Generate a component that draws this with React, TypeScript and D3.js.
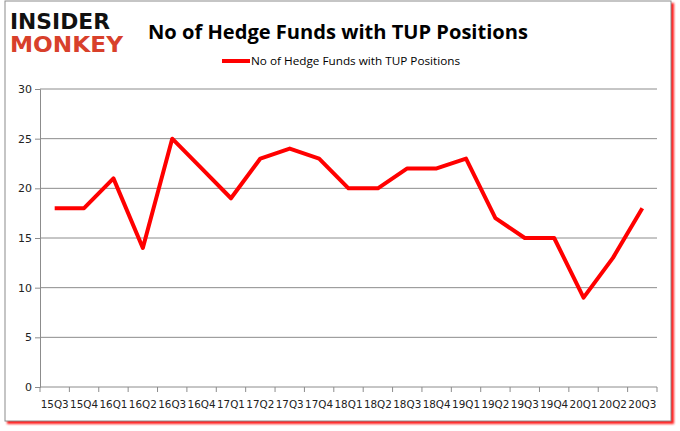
// @ts-nocheck
import React, { useEffect, useRef } from 'react'
import * as d3 from 'd3'

const quarters = ['15Q3', '15Q4', '16Q1', '16Q2', '16Q3', '16Q4', '17Q1', '17Q2', '17Q3', '17Q4',
    '18Q1', '18Q2', '18Q3', '18Q4', '19Q1', '19Q2', '19Q3', '19Q4', '20Q1', '20Q2', '20Q3']
const funds = [18, 18, 21, 14, 25, 22, 19, 23, 24, 23, 20, 20, 22, 22, 23, 17, 15, 15, 9, 13, 18]
const yTicks = [0, 5, 10, 15, 20, 25, 30]
const seriesName = 'No of Hedge Funds with TUP Positions'

const App = () => {
    const ref = useRef(null)

    useEffect(() => {
        const left = 40, right = 657, top = 89, bottom = 387

        const svg = d3.select(ref.current)
        svg.selectAll('*').remove()

        // soft red shadow behind the frame
        const defs = svg.append('defs')
        defs.append('filter').attr('id', 'blur').attr('x', '-5%').attr('y', '-5%')
            .attr('width', '110%').attr('height', '110%')
            .append('feGaussianBlur').attr('stdDeviation', 1.3)
        svg.append('rect').attr('x', 7).attr('y', 3).attr('width', 667).attr('height', 421)
            .attr('fill', '#ff1a1a').attr('filter', 'url(#blur)')
        svg.append('rect').attr('x', 5).attr('y', 1).attr('width', 666).attr('height', 420)
            .attr('fill', '#fff').attr('stroke', '#8c8c8c').attr('stroke-width', 1)

        // logo
        svg.append('text').attr('x', 10).attr('y', 29).text('INSIDER')
            .attr('font-family', 'DejaVu Sans').attr('font-weight', 900).attr('font-size', 22)
            .attr('textLength', 100).attr('lengthAdjust', 'spacingAndGlyphs').attr('fill', '#111')
        svg.append('text').attr('x', 10).attr('y', 52).text('MONKEY')
            .attr('font-family', 'DejaVu Sans').attr('font-weight', 900).attr('font-size', 22)
            .attr('textLength', 113).attr('lengthAdjust', 'spacingAndGlyphs').attr('fill', '#d8402b')

        // title
        svg.append('text').attr('x', 338).attr('y', 39).attr('text-anchor', 'middle')
            .text(seriesName).attr('font-family', 'Open Sans').attr('font-weight', 700)
            .attr('font-size', 19).attr('textLength', 380).attr('lengthAdjust', 'spacingAndGlyphs')

        // legend
        svg.append('line').attr('x1', 222).attr('x2', 250).attr('y1', 61).attr('y2', 61)
            .attr('stroke', '#ff0000').attr('stroke-width', 4)
        svg.append('text').attr('x', 251).attr('y', 65).text(seriesName)
            .attr('font-family', 'Open Sans').attr('font-size', 11.5)
            .attr('textLength', 209).attr('lengthAdjust', 'spacingAndGlyphs')

        const x = d3.scaleBand().domain(quarters).range([left, right])
        const y = d3.scaleLinear().domain([0, 30]).range([bottom, top])

        // gridlines
        svg.append('g').selectAll('line').data(yTicks.filter(t => t > 0)).join('line')
            .attr('x1', left).attr('x2', right)
            .attr('y1', d => y(d)).attr('y2', d => y(d))
            .attr('stroke', '#8c8c8c').attr('stroke-width', 1)

        // y axis
        const yAxis = svg.append('g').attr('transform', `translate(${left},0)`)
            .call(d3.axisLeft(y).tickValues(yTicks).tickSize(5).tickPadding(3))
        yAxis.select('.domain').attr('stroke', '#8c8c8c')
        yAxis.selectAll('.tick line').attr('stroke', '#8c8c8c')
        yAxis.selectAll('text').attr('font-family', 'DejaVu Sans').attr('font-size', 11).attr('fill', '#222')

        // x axis
        const xAxis = svg.append('g').attr('transform', `translate(0,${bottom})`)
            .call(d3.axisBottom(x).tickSize(0).tickPadding(14))
        xAxis.select('.domain').attr('stroke', '#8c8c8c').attr('d', `M${left},0H${right}`)
        xAxis.selectAll('text').attr('font-family', 'DejaVu Sans').attr('font-size', 10.5).attr('fill', '#222')
            .attr('textLength', 28).attr('lengthAdjust', 'spacingAndGlyphs')
        xAxis.append('g').selectAll('line').data(quarters.concat(['end'])).join('line')
            .attr('x1', (d, i) => left + i * x.step()).attr('x2', (d, i) => left + i * x.step())
            .attr('y1', 0).attr('y2', 5).attr('stroke', '#8c8c8c')

        // series line
        const line = d3.line().x((d, i) => x(quarters[i]) + x.bandwidth() / 2).y(d => y(d))
        svg.append('path').attr('d', line(funds)).attr('fill', 'none')
            .attr('stroke', '#ff0000').attr('stroke-width', 4).attr('stroke-linejoin', 'round')
    }, [])

    return <svg ref={ref} width={680} height={431}
        style={{ position: 'absolute', left: 0, top: 0, background: '#fff' }} />
}

export default App
